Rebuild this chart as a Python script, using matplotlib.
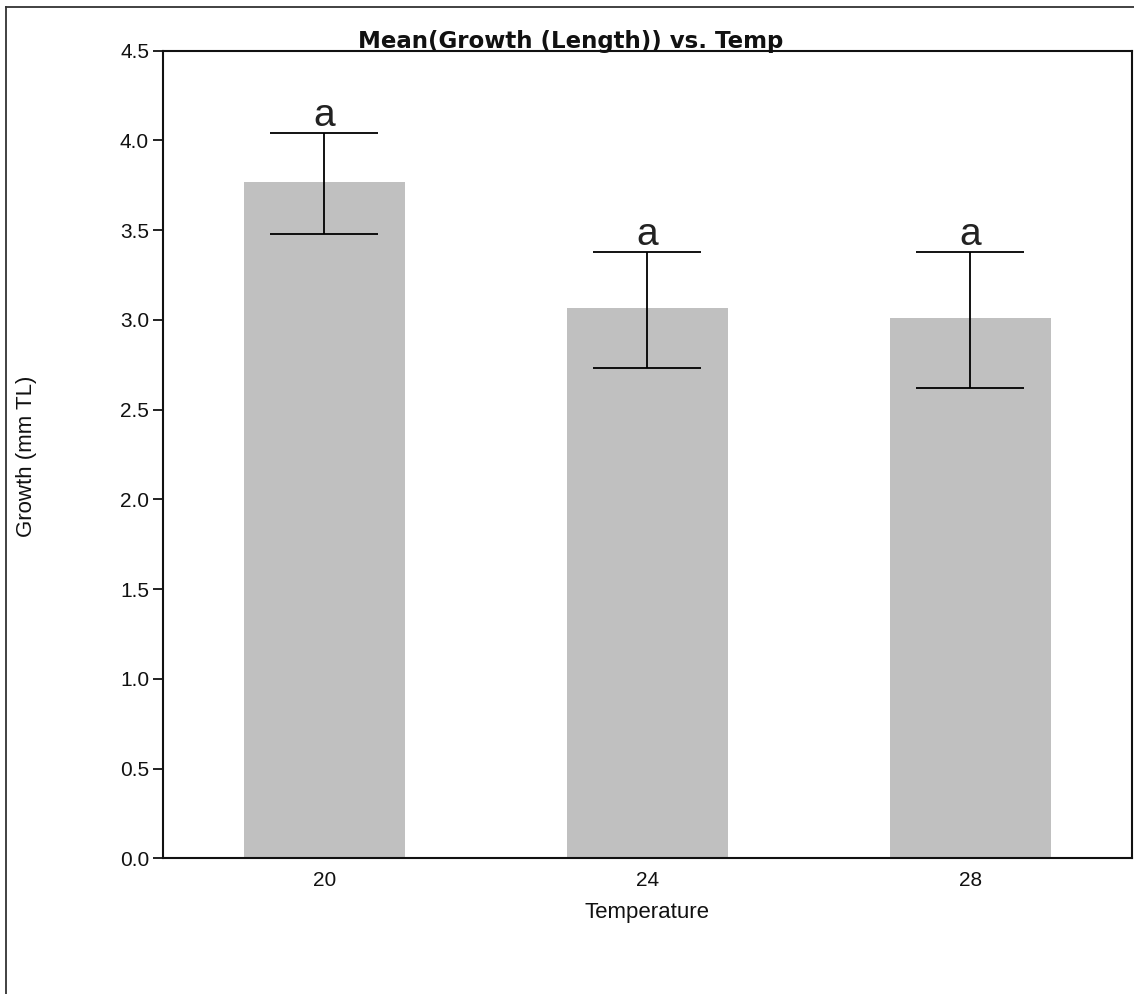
import matplotlib
matplotlib.use("Agg")
import matplotlib.pyplot as plt
from matplotlib.lines import Line2D
import numpy as np

# Mean growth per rearing temperature, with error-bar bounds
temperatures = ["20", "24", "28"]
mean_growth = [3.77, 3.064, 3.008]
upper_bound = [4.039, 3.379, 3.379]
lower_bound = [3.478, 2.730, 2.618]
group_letters = ["a", "a", "a"]
y_ticks = [0.0, 0.5, 1.0, 1.5, 2.0, 2.5, 3.0, 3.5, 4.0, 4.5]

W, H, DPI = 1134, 994, 100
fig = plt.figure(figsize=(W / DPI, H / DPI), dpi=DPI, facecolor="white")

# outer frame (only left and top edges fall inside the canvas)
fig.add_artist(Line2D([6 / W, 6 / W], [0, 1 - 6.5 / H], transform=fig.transFigure,
                      color="#333333", lw=1.3))
fig.add_artist(Line2D([6 / W, 1], [1 - 6.5 / H, 1 - 6.5 / H], transform=fig.transFigure,
                      color="#333333", lw=1.3))

left, right = 163 / W, 1131.7 / W
top, bottom = 1 - 50.7 / H, 1 - 858.3 / H
ax = fig.add_axes([left, bottom, right - left, top - bottom])

x = np.arange(len(temperatures))
means = np.array(mean_growth)
yerr = np.vstack([means - np.array(lower_bound), np.array(upper_bound) - means])

ax.bar(x, means, width=0.5, color="#C0C0C0", edgecolor="none", zorder=1)
ax.errorbar(x, means, yerr=yerr, fmt="none", ecolor="black", elinewidth=1.3,
            capsize=38.8, capthick=1.3, zorder=2)

for xi, up, lab in zip(x, upper_bound, group_letters):
    ax.annotate(lab, (xi, up), xytext=(0, 7), textcoords="offset pixels",
                ha="center", va="baseline", fontsize=28,
                family="Liberation Sans", color="#222222")

ax.set_xlim(-0.5, 2.5)
ax.set_ylim(0, 4.5)
ax.set_xticks(x)
ax.set_xticklabels(temperatures)
ax.set_yticks(y_ticks)
ax.set_yticklabels([f"{v:.1f}" for v in y_ticks])

for side in ["left", "right", "top", "bottom"]:
    ax.spines[side].set_linewidth(1.5)
    ax.spines[side].set_color("#111111")

ax.tick_params(axis="y", direction="out", length=7, width=1.3, pad=3,
               labelsize=15, colors="#111111")
ax.tick_params(axis="x", length=0, pad=9, labelsize=15, colors="#111111")
for lab in ax.get_xticklabels() + ax.get_yticklabels():
    lab.set_family("Liberation Sans")

ax.set_xlabel("Temperature", fontsize=16, family="Liberation Sans",
              labelpad=9, color="#111111")
fig.text(26.7 / W, 1 - 456 / H, "Growth (mm TL)", rotation=90,
         ha="center", va="center", fontsize=16, family="Liberation Sans",
         color="#111111")

fig.text(571 / W, 1 - 48 / H, "Mean(Growth (Length)) vs. Temp",
         ha="center", va="baseline", fontsize=16.5, fontweight="bold",
         family="DejaVu Sans", color="#111111")

fig.savefig("out.png", dpi=DPI, facecolor="white")
